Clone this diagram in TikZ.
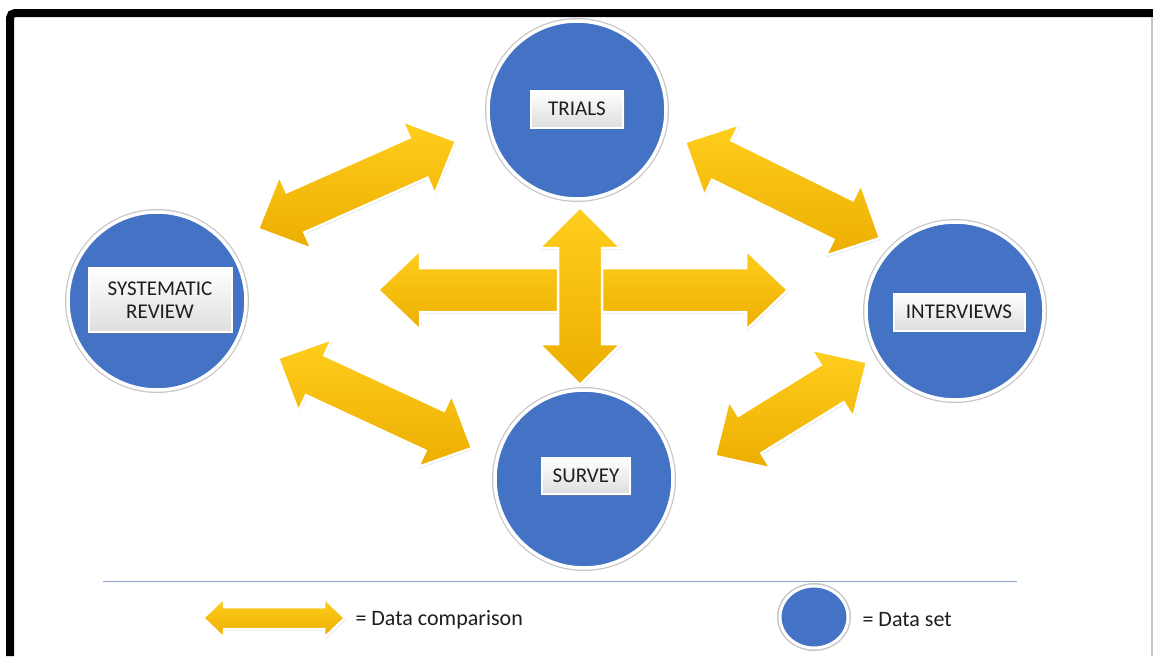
\documentclass[tikz,border=0pt]{standalone}
\usepackage{fontspec}
\setmainfont{Carlito}
\usetikzlibrary{calc,shadows,shapes.geometric}

\definecolor{setblue}{RGB}{68,114,196}
\definecolor{arrowtop}{RGB}{255,206,30}
\definecolor{arrowbot}{RGB}{236,174,0}
\definecolor{rulecol}{RGB}{140,162,206}
\definecolor{labeltxt}{RGB}{30,30,30}

\tikzset{
  dataset/.style={circle, fill=setblue, draw=white, line width=3.5pt,
    minimum size=178pt, inner sep=0pt,
    drop shadow={shadow xshift=1.5pt, shadow yshift=-2pt, opacity=0.3},
    preaction={draw=black!22, line width=6pt}},
  setlabel/.style={rectangle, draw=white, line width=2pt,
    top color=white, bottom color=black!13, text=labeltxt, align=center,
    inner sep=0pt, font=\fontsize{21}{23}\selectfont,
    drop shadow={shadow xshift=1.5pt, shadow yshift=-1.5pt, opacity=0.45}},
  cmparrow/.style={draw=white, line width=2.5pt, line join=miter,
    top color=arrowtop, bottom color=arrowbot,
    drop shadow={shadow xshift=1pt, shadow yshift=-1.5pt, opacity=0.3}},
  keytext/.style={anchor=west, text=labeltxt, font=\fontsize{22}{26}\selectfont},
}

% double-headed block arrow between two named points:
% #1,#2 tips, #3 head length, #4 head half-width, #5 shaft half-width
\newcommand\yarrow[5]{%
  \path (#1) coordinate (t1) (#2) coordinate (t2)
    ($(t1)!#3!(t2)$) coordinate (h1) ($(t2)!#3!(t1)$) coordinate (h2);
  \path[cmparrow] (t1) -- ($(h1)!#4!90:(t2)$) -- ($(h1)!#5!90:(t2)$)
    -- ($(h2)!#5!-90:(t1)$) -- ($(h2)!#4!-90:(t1)$) -- (t2)
    -- ($(h2)!#4!90:(t1)$) -- ($(h2)!#5!90:(t1)$)
    -- ($(h1)!#5!-90:(t2)$) -- ($(h1)!#4!-90:(t2)$) -- cycle;
}

\begin{document}
\begin{tikzpicture}[x=1pt,y=-1pt]
  \useasboundingbox (0,0) rectangle (1153,656);
  \fill[white] (0,0) rectangle (1153,656);

  % frame
  \draw[line width=8pt, rounded corners=5pt] (10,656) -- (10,13) -- (1153,13);
  \draw[black!22, line width=1.5pt] (1152,17) -- (1152,656);

  % data sets
  \node[dataset] (trials) at (577,110) {};
  \node[dataset] (review) at (157,301) {};
  \node[dataset] (interviews) at (955,311) {};
  \node[dataset] (survey) at (584,479) {};

  \node[setlabel, minimum width=92pt, minimum height=37pt] (trialslbl) at (577,109) {TRIALS};
  \node[setlabel, minimum width=143pt, minimum height=64pt] (reviewlbl) at (160,300) {SYSTEMATIC\\REVIEW};
  \node[setlabel, minimum width=131pt, minimum height=37pt] (interviewslbl) at (959,312) {INTERVIEWS};
  \node[setlabel, minimum width=88pt, minimum height=36pt] (surveylbl) at (586,476) {SURVEY};

  % comparison arrow ends
  \coordinate (tlA) at (258,229);  \coordinate (tlB) at (456,141);
  \coordinate (trA) at (685,142);  \coordinate (trB) at (880,238);
  \coordinate (blA) at (278,358);  \coordinate (blB) at (472,448);
  \coordinate (brA) at (715,456);  \coordinate (brB) at (867,362);
  \coordinate (hzA) at (378,290);  \coordinate (hzB) at (788,290);
  \coordinate (vtA) at (580,207);  \coordinate (vtB) at (580,385);

  \yarrow{tlA}{tlB}{41pt}{40pt}{22pt}
  \yarrow{trA}{trB}{41pt}{40pt}{22pt}
  \yarrow{blA}{blB}{41pt}{40pt}{22pt}
  \yarrow{brA}{brB}{41pt}{40pt}{22pt}
  \yarrow{hzA}{hzB}{42pt}{40pt}{22pt}
  \yarrow{vtA}{vtB}{41pt}{41pt}{22pt}

  % legend
  \coordinate (ruleA) at (103,581);
  \coordinate (ruleB) at (1017,581);
  \draw[rulecol, line width=0.8pt] (ruleA) -- (ruleB);

  \coordinate (keyA) at (203,618);
  \coordinate (keyB) at (345,618);
  \yarrow{keyA}{keyB}{21pt}{20pt}{11pt}
  \node[keytext] (cmpkey) at (352,620) {= Data comparison};

  \node[dataset, ellipse, minimum width=68pt, minimum height=62pt,
    line width=3pt] (setkey) at (814,617) {};
  \node[keytext] (setkeytxt) at (859,620) {= Data set};
\end{tikzpicture}
\end{document}
